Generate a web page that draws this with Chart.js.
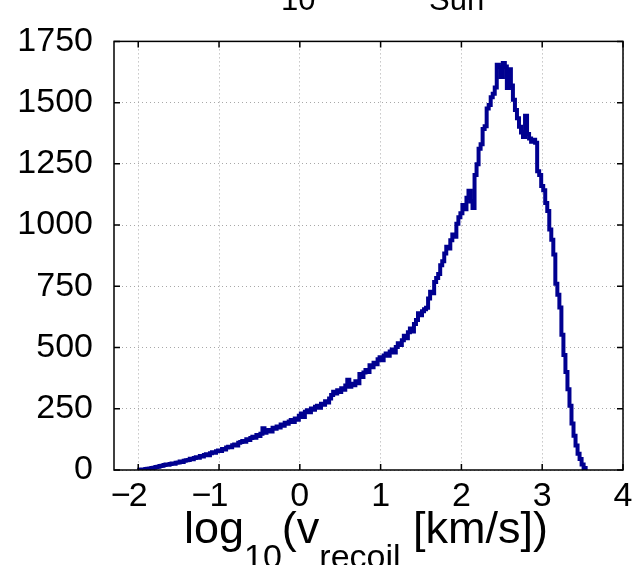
<!DOCTYPE html>
<html>
<head>
<meta charset="utf-8">
<script src="https://cdn.jsdelivr.net/npm/chart.js@4/dist/chart.umd.min.js"></script>
<style>
  html, body { margin: 0; padding: 0; background: #fff; }
  canvas { display: block; }
</style>
</head>
<body>
<canvas id="recoilChart" width="637" height="565"></canvas>
<script>
// histogram of log10(v_recoil), bins of 0.025 starting at -2.0
const binStart = -2.0;
const binWidth = 0.025;
const counts = [
  0, 1, 2, 2, 4, 5, 6, 8, 9, 12,
  13, 16, 17, 20, 22, 21, 25, 27, 26, 30,
  31, 35, 33, 38, 40, 41, 46, 44, 49, 52,
  50, 57, 55, 61, 64, 60, 68, 72, 70, 77,
  80, 78, 86, 84, 92, 95, 93, 101, 104, 100,
  111, 114, 118, 115, 126, 123, 131, 136, 132, 143,
  139, 148, 170, 152, 160, 163, 157, 172, 168, 178,
  174, 186, 181, 193, 189, 198, 204, 196, 210, 205,
  222, 231, 216, 238, 244, 236, 251, 246, 258, 262,
  254, 270, 266, 281, 276, 292, 306, 320, 312, 326,
  318, 334, 328, 345, 368, 340, 352, 346, 362, 354,
  392, 380, 398, 408, 400, 428, 420, 438, 432, 452,
  460, 448, 468, 476, 466, 484, 492, 480, 502, 518,
  510, 530, 548, 538, 562, 578, 566, 596, 612, 640,
  632, 648, 656, 662, 700, 728, 722, 768, 784, 800,
  836, 852, 884, 912, 904, 938, 962, 952, 1005, 1032,
  1048, 1082, 1065, 1112, 1140, 1096, 1070, 1205, 1248, 1312,
  1330, 1392, 1404, 1476, 1490, 1522, 1536, 1562, 1655, 1645,
  1605, 1662, 1648, 1560, 1636, 1570, 1512, 1470, 1436, 1402,
  1378, 1360, 1446, 1372, 1354, 1340, 1348, 1336, 1220, 1204,
  1160, 1142, 1090, 1058, 982, 940, 880, 760, 716, 664,
  552, 470, 400, 330, 262, 190, 140, 100, 66, 45,
  22, 8, 0
];
const xTicks = [-2, -1, 0, 1, 2, 3, 4];
const yTicks = [0, 250, 500, 750, 1000, 1250, 1500, 1750];

const FONT = '"Liberation Sans", Arial, Helvetica, sans-serif';
const lineColor = '#000090';

const points = counts.map((c, i) => ({ x: binStart + i * binWidth, y: c }));

// box, inward ticks, x tick labels and the sub-scripted labels (MATLAB look)
const matlabAxes = {
  id: 'matlabAxes',
  afterDraw(chart) {
    const ctx = chart.ctx;
    const a = chart.chartArea;
    const xs = chart.scales.x;
    const ys = chart.scales.y;
    const tl = 6;
    ctx.save();
    ctx.strokeStyle = '#000';
    ctx.lineWidth = 1.5;
    ctx.strokeRect(a.left, a.top, a.right - a.left, a.bottom - a.top);
    ctx.beginPath();
    xTicks.forEach(v => {
      const px = xs.getPixelForValue(v);
      ctx.moveTo(px, a.bottom); ctx.lineTo(px, a.bottom - tl);
      ctx.moveTo(px, a.top); ctx.lineTo(px, a.top + tl);
    });
    yTicks.forEach(v => {
      const py = ys.getPixelForValue(v);
      ctx.moveTo(a.left, py); ctx.lineTo(a.left + tl, py);
      ctx.moveTo(a.right, py); ctx.lineTo(a.right - tl, py);
    });
    ctx.stroke();

    // x tick labels: digit centred on tick, minus sign hung to the left
    ctx.fillStyle = '#000';
    ctx.font = '34px ' + FONT;
    ctx.textBaseline = 'alphabetic';
    xTicks.forEach(v => {
      const px = xs.getPixelForValue(v);
      const digit = String(Math.abs(v));
      ctx.textAlign = 'center';
      ctx.fillText(digit, px, 506);
      if (v < 0) {
        const w = ctx.measureText(digit).width;
        ctx.textAlign = 'right';
        ctx.fillText('\u2212', px - w / 2 + 2, 506);
      }
    });

    // x axis label with subscripts
    const parts = [
      ['log', 45, 0], ['10', 34, 25], ['(v', 45, 0], ['recoil', 34, 25], [' [km/s])', 45, 0]
    ];
    let total = 0;
    parts.forEach(p => { ctx.font = p[1] + 'px ' + FONT; total += ctx.measureText(p[0]).width; });
    let x = 366 - total / 2;
    ctx.textAlign = 'left';
    parts.forEach(p => {
      ctx.font = p[1] + 'px ' + FONT;
      ctx.fillText(p[0], x, 543 + p[2]);
      x += ctx.measureText(p[0]).width;
    });

    // remains of the title, cut by the top edge
    ctx.font = '31px ' + FONT;
    ctx.fillText('10', 281, 10);
    ctx.fillText('Sun', 429, 10);
    ctx.restore();
  }
};

const ctx = document.getElementById('recoilChart').getContext('2d');
new Chart(ctx, {
  type: 'line',
  data: {
    datasets: [{
      data: points,
      borderColor: lineColor,
      borderWidth: 4,
      pointRadius: 0,
      stepped: 'middle',
      fill: false
    }]
  },
  options: {
    responsive: false,
    animation: false,
    devicePixelRatio: 1,
    layout: { padding: { top: 24, right: 14, left: 0, bottom: 0 } },
    plugins: {
      legend: { display: false },
      tooltip: { enabled: false }
    },
    scales: {
      x: {
        type: 'linear',
        min: -2.3,
        max: 4,
        afterBuildTicks: axis => { axis.ticks = xTicks.map(v => ({ value: v })); },
        afterFit: axis => { axis.height = 95; },
        ticks: { display: false },
        grid: { color: '#a8a8a8', lineWidth: 1, drawTicks: false },
        border: { display: false, dash: [1, 3] }
      },
      y: {
        min: 0,
        max: 1750,
        afterBuildTicks: axis => { axis.ticks = yTicks.map(v => ({ value: v })); },
        afterFit: axis => { axis.width = 114; },
        ticks: {
          color: '#000',
          padding: 21,
          font: { family: FONT, size: 34 },
          callback: v => String(v)
        },
        grid: { color: '#a8a8a8', lineWidth: 1, drawTicks: false },
        border: { display: false, dash: [1, 3] }
      }
    }
  },
  plugins: [matlabAxes]
});
</script>
</body>
</html>
